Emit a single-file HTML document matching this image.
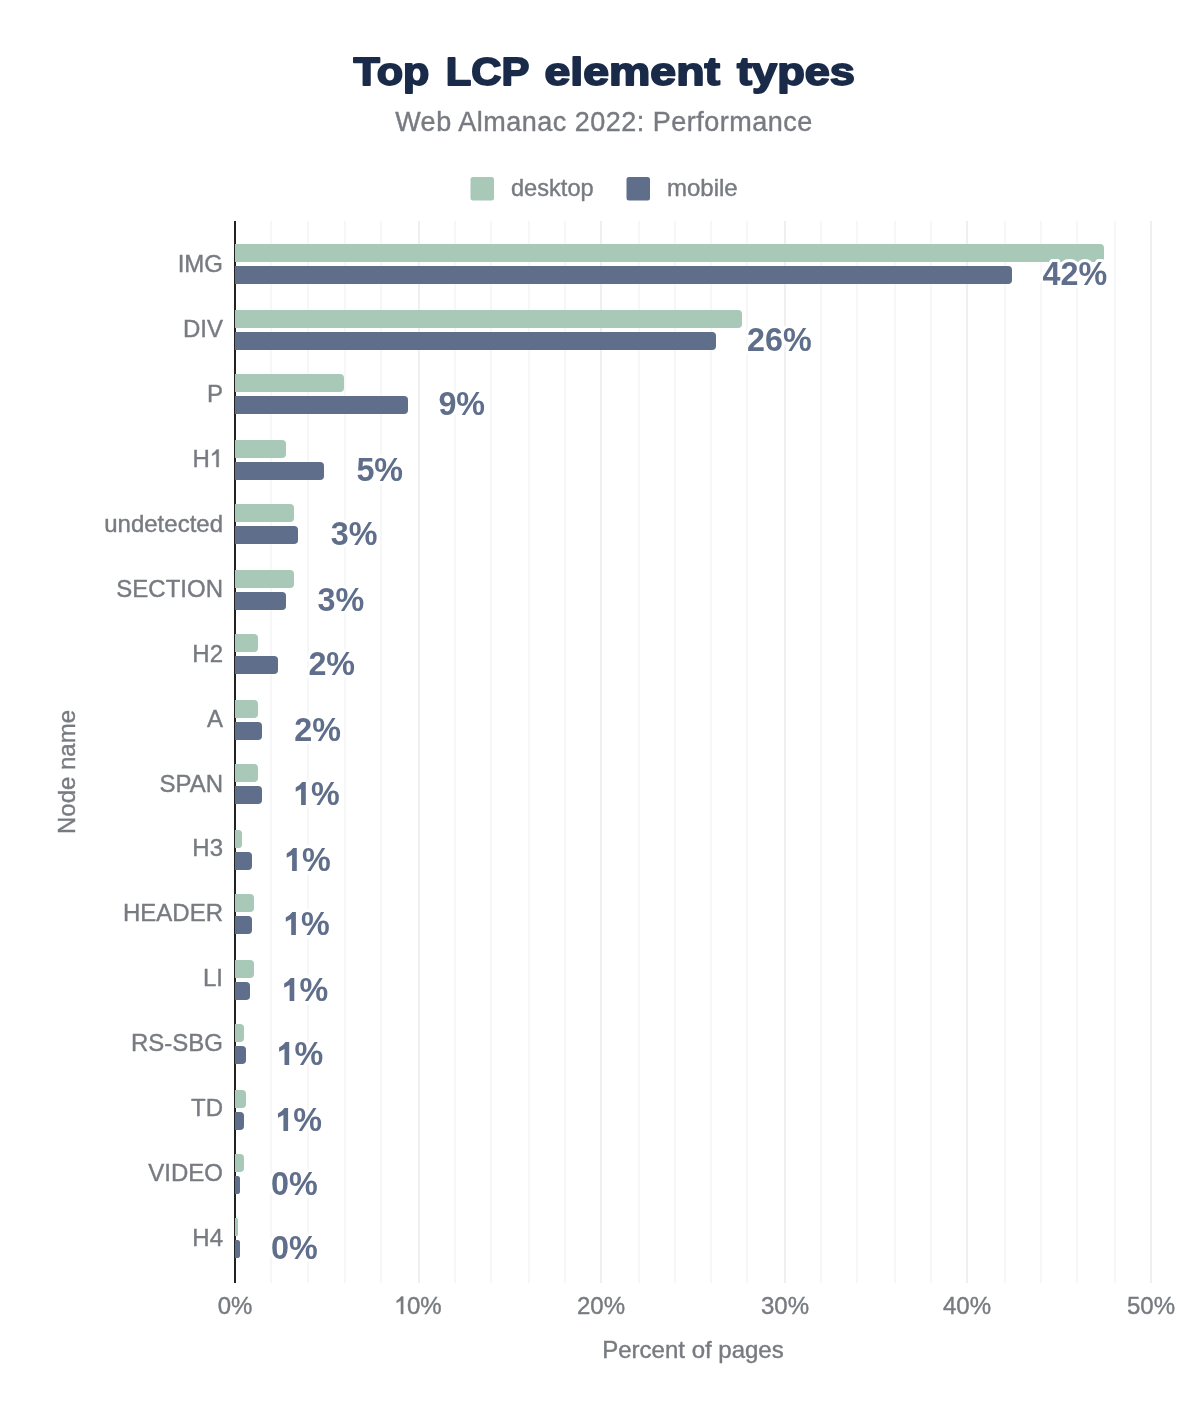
<!DOCTYPE html>
<html><head><meta charset="utf-8"><title>Top LCP element types</title><style>
html,body{margin:0;padding:0;background:#fff;}
body{width:1200px;height:1404px;overflow:hidden;position:relative;}
svg{position:absolute;left:0;top:0;will-change:transform;}
text{font-family:"Liberation Sans",sans-serif;}
.yl,.xt,.at,.lg,.st{fill:#777b81;stroke:#777b81;stroke-width:0.4px;}
.yl,.xt,.at{font-size:24px;}
.one_r{fill:#777b81;stroke:#777b81;stroke-width:0.4px;}
.dl{font-size:34px;font-weight:bold;fill:#5f6e8a;stroke:#fff;stroke-width:6px;paint-order:stroke;stroke-linejoin:round;}
.one_b{fill:#5f6e8a;stroke:#fff;stroke-width:6px;paint-order:stroke;stroke-linejoin:round;}
.ti{font-size:39px;font-weight:bold;fill:#1a2b49;stroke:#1a2b49;stroke-width:1.8px;stroke-linejoin:round;}
.st{font-size:27px;letter-spacing:0.5px;}
.lg{font-size:24px;}
</style></head><body>
<svg width="1200" height="1404" viewBox="0 0 1200 1404">
<text transform="translate(353.6 85) scale(1.105 1)" class="ti">Top</text><text transform="translate(445.8 85) scale(1.072 1)" class="ti">LCP</text><text transform="translate(544.4 85) scale(1.192 1)" class="ti">element</text><text transform="translate(737 85) scale(1.158 1)" class="ti">types</text>
<text x="604" y="131" text-anchor="middle" class="st">Web Almanac 2022: Performance</text>
<rect x="470.5" y="177" width="23.5" height="23.5" rx="2.5" fill="#a8c8b8"/>
<text x="511" y="196" class="lg" style="font-size:23.6px">desktop</text>
<rect x="626.5" y="177" width="23.5" height="23.5" rx="2.5" fill="#5f6e8a"/>
<text x="667" y="196" class="lg">mobile</text>
<rect x="270" y="221" width="2" height="1062" fill="#f7f7f7"/><rect x="307" y="221" width="2" height="1062" fill="#f7f7f7"/><rect x="344" y="221" width="2" height="1062" fill="#f7f7f7"/><rect x="380" y="221" width="2" height="1062" fill="#f7f7f7"/><rect x="418" y="221" width="2" height="1062" fill="#efefef"/><rect x="454" y="221" width="2" height="1062" fill="#f7f7f7"/><rect x="490" y="221" width="2" height="1062" fill="#f7f7f7"/><rect x="528" y="221" width="2" height="1062" fill="#f7f7f7"/><rect x="564" y="221" width="2" height="1062" fill="#f7f7f7"/><rect x="600" y="221" width="2" height="1062" fill="#efefef"/><rect x="638" y="221" width="2" height="1062" fill="#f7f7f7"/><rect x="674" y="221" width="2" height="1062" fill="#f7f7f7"/><rect x="710" y="221" width="2" height="1062" fill="#f7f7f7"/><rect x="746" y="221" width="2" height="1062" fill="#f7f7f7"/><rect x="784" y="221" width="2" height="1062" fill="#efefef"/><rect x="820" y="221" width="2" height="1062" fill="#f7f7f7"/><rect x="856" y="221" width="2" height="1062" fill="#f7f7f7"/><rect x="894" y="221" width="2" height="1062" fill="#f7f7f7"/><rect x="930" y="221" width="2" height="1062" fill="#f7f7f7"/><rect x="966" y="221" width="2" height="1062" fill="#efefef"/><rect x="1004" y="221" width="2" height="1062" fill="#f7f7f7"/><rect x="1040" y="221" width="2" height="1062" fill="#f7f7f7"/><rect x="1076" y="221" width="2" height="1062" fill="#f7f7f7"/><rect x="1114" y="221" width="2" height="1062" fill="#f7f7f7"/><rect x="1150" y="221" width="2" height="1062" fill="#efefef"/>
<rect x="234" y="221" width="2" height="1062" fill="#222"/>
<path d="M235 244H1100Q1104 244 1104 248V258Q1104 262 1100 262H235Z" fill="#a8c8b8"/><path d="M235 266H1008Q1012 266 1012 270V280Q1012 284 1008 284H235Z" fill="#5f6e8a"/><path d="M235 310H738Q742 310 742 314V324Q742 328 738 328H235Z" fill="#a8c8b8"/><path d="M235 332H712Q716 332 716 336V346Q716 350 712 350H235Z" fill="#5f6e8a"/><path d="M235 374H340Q344 374 344 378V388Q344 392 340 392H235Z" fill="#a8c8b8"/><path d="M235 396H404Q408 396 408 400V410Q408 414 404 414H235Z" fill="#5f6e8a"/><path d="M235 440H282Q286 440 286 444V454Q286 458 282 458H235Z" fill="#a8c8b8"/><path d="M235 462H320Q324 462 324 466V476Q324 480 320 480H235Z" fill="#5f6e8a"/><path d="M235 504H290Q294 504 294 508V518Q294 522 290 522H235Z" fill="#a8c8b8"/><path d="M235 526H294Q298 526 298 530V540Q298 544 294 544H235Z" fill="#5f6e8a"/><path d="M235 570H290Q294 570 294 574V584Q294 588 290 588H235Z" fill="#a8c8b8"/><path d="M235 592H282Q286 592 286 596V606Q286 610 282 610H235Z" fill="#5f6e8a"/><path d="M235 634H254Q258 634 258 638V648Q258 652 254 652H235Z" fill="#a8c8b8"/><path d="M235 656H274Q278 656 278 660V670Q278 674 274 674H235Z" fill="#5f6e8a"/><path d="M235 700H254Q258 700 258 704V714Q258 718 254 718H235Z" fill="#a8c8b8"/><path d="M235 722H258Q262 722 262 726V736Q262 740 258 740H235Z" fill="#5f6e8a"/><path d="M235 764H254Q258 764 258 768V778Q258 782 254 782H235Z" fill="#a8c8b8"/><path d="M235 786H258Q262 786 262 790V800Q262 804 258 804H235Z" fill="#5f6e8a"/><path d="M235 830H238.5Q242 830 242 833.5V844.5Q242 848 238.5 848H235Z" fill="#a8c8b8"/><path d="M235 852H248Q252 852 252 856V866Q252 870 248 870H235Z" fill="#5f6e8a"/><path d="M235 894H250Q254 894 254 898V908Q254 912 250 912H235Z" fill="#a8c8b8"/><path d="M235 916H248Q252 916 252 920V930Q252 934 248 934H235Z" fill="#5f6e8a"/><path d="M235 960H250Q254 960 254 964V974Q254 978 250 978H235Z" fill="#a8c8b8"/><path d="M235 982H246Q250 982 250 986V996Q250 1000 246 1000H235Z" fill="#5f6e8a"/><path d="M235 1024H240Q244 1024 244 1028V1038Q244 1042 240 1042H235Z" fill="#a8c8b8"/><path d="M235 1046H242Q246 1046 246 1050V1060Q246 1064 242 1064H235Z" fill="#5f6e8a"/><path d="M235 1090H242Q246 1090 246 1094V1104Q246 1108 242 1108H235Z" fill="#a8c8b8"/><path d="M235 1112H240Q244 1112 244 1116V1126Q244 1130 240 1130H235Z" fill="#5f6e8a"/><path d="M235 1154H240Q244 1154 244 1158V1168Q244 1172 240 1172H235Z" fill="#a8c8b8"/><path d="M235 1176H237.5Q240 1176 240 1178.5V1191.5Q240 1194 237.5 1194H235Z" fill="#5f6e8a"/><path d="M235 1218H236.5Q238 1218 238 1219.5V1234.5Q238 1236 236.5 1236H235Z" fill="#a8c8b8"/><path d="M235 1240H237.5Q240 1240 240 1242.5V1255.5Q240 1258 237.5 1258H235Z" fill="#5f6e8a"/>
<text transform="translate(223 272.30) scale(1 1.03)" text-anchor="end" class="yl">IMG</text><text transform="translate(1042.6 285) scale(0.95 1)" class="dl">42%</text><text transform="translate(223 337.20) scale(1 1.03)" text-anchor="end" class="yl">DIV</text><text transform="translate(747.0 351) scale(0.95 1)" class="dl">26%</text><text transform="translate(223 402.10) scale(1 1.03)" text-anchor="end" class="yl">P</text><text transform="translate(438.4 415) scale(0.95 1)" class="dl">9%</text><text transform="translate(192.4 467.00) scale(1 1.03)" class="yl">H</text><path transform="translate(212 467.00)" d="M4.7 -17.4H6.7V0H4.4V-13.5L0.2 -11.2V-13.2Q2.9 -14.7 4.7 -17.4Z" class="one_r"/><text transform="translate(356.4 481) scale(0.95 1)" class="dl">5%</text><text transform="translate(223 531.90) scale(1 1.03)" text-anchor="end" class="yl">undetected</text><text transform="translate(330.8 545) scale(0.95 1)" class="dl">3%</text><text transform="translate(223 596.80) scale(1 1.03)" text-anchor="end" class="yl">SECTION</text><text transform="translate(317.6 611) scale(0.95 1)" class="dl">3%</text><text transform="translate(223 661.70) scale(1 1.03)" text-anchor="end" class="yl">H2</text><text transform="translate(308.4 675) scale(0.95 1)" class="dl">2%</text><text transform="translate(223 726.60) scale(1 1.03)" text-anchor="end" class="yl">A</text><text transform="translate(294.2 741) scale(0.95 1)" class="dl">2%</text><text transform="translate(223 791.50) scale(1 1.03)" text-anchor="end" class="yl">SPAN</text><path transform="translate(295.7 805)" d="M6.45 -23.1H10.1V0H5.4V-16.1L0 -13.35V-17.45Q4 -19.5 6.45 -23.1Z" class="one_b"/><text transform="translate(311.0 805) scale(0.95 1)" class="dl">%</text><text transform="translate(223 856.40) scale(1 1.03)" text-anchor="end" class="yl">H3</text><path transform="translate(286.7 871)" d="M6.45 -23.1H10.1V0H5.4V-16.1L0 -13.35V-17.45Q4 -19.5 6.45 -23.1Z" class="one_b"/><text transform="translate(302.0 871) scale(0.95 1)" class="dl">%</text><text transform="translate(223 921.30) scale(1 1.03)" text-anchor="end" class="yl">HEADER</text><path transform="translate(285.8 935)" d="M6.45 -23.1H10.1V0H5.4V-16.1L0 -13.35V-17.45Q4 -19.5 6.45 -23.1Z" class="one_b"/><text transform="translate(301.1 935) scale(0.95 1)" class="dl">%</text><text transform="translate(223 986.20) scale(1 1.03)" text-anchor="end" class="yl">LI</text><path transform="translate(284.2 1001)" d="M6.45 -23.1H10.1V0H5.4V-16.1L0 -13.35V-17.45Q4 -19.5 6.45 -23.1Z" class="one_b"/><text transform="translate(299.5 1001) scale(0.95 1)" class="dl">%</text><text transform="translate(223 1051.10) scale(1 1.03)" text-anchor="end" class="yl">RS-SBG</text><path transform="translate(279.1 1065)" d="M6.45 -23.1H10.1V0H5.4V-16.1L0 -13.35V-17.45Q4 -19.5 6.45 -23.1Z" class="one_b"/><text transform="translate(294.4 1065) scale(0.95 1)" class="dl">%</text><text transform="translate(223 1116.00) scale(1 1.03)" text-anchor="end" class="yl">TD</text><path transform="translate(278 1131)" d="M6.45 -23.1H10.1V0H5.4V-16.1L0 -13.35V-17.45Q4 -19.5 6.45 -23.1Z" class="one_b"/><text transform="translate(293.3 1131) scale(0.95 1)" class="dl">%</text><text transform="translate(223 1180.90) scale(1 1.03)" text-anchor="end" class="yl">VIDEO</text><text transform="translate(271.0 1195) scale(0.95 1)" class="dl">0%</text><text transform="translate(223 1245.80) scale(1 1.03)" text-anchor="end" class="yl">H4</text><text transform="translate(271.0 1259) scale(0.95 1)" class="dl">0%</text>
<text x="235" y="1314" text-anchor="middle" class="xt">0%</text><path transform="translate(396.5 1314)" d="M4.7 -17.4H6.7V0H4.4V-13.5L0.2 -11.2V-13.2Q2.9 -14.7 4.7 -17.4Z" class="one_r"/><text x="407" y="1314" class="xt">0%</text><text x="601" y="1314" text-anchor="middle" class="xt">20%</text><text x="785" y="1314" text-anchor="middle" class="xt">30%</text><text x="967" y="1314" text-anchor="middle" class="xt">40%</text><text x="1151" y="1314" text-anchor="middle" class="xt">50%</text>
<text x="693" y="1358" text-anchor="middle" class="at">Percent of pages</text>
<text transform="translate(75 772) rotate(-90)" text-anchor="middle" class="at">Node name</text>
</svg>
</body></html>
